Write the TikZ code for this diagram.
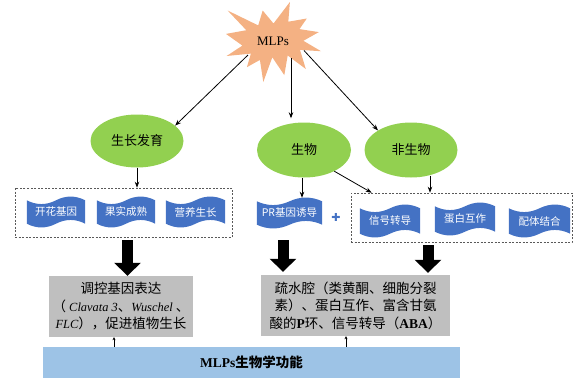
\documentclass[tikz,border=0pt]{standalone}
\usepackage{fontspec}
\setmainfont{Noto Sans CJK SC}
\newfontfamily\tnr[Scale=0.92]{Liberation Serif}
\newfontfamily\tnrb{Liberation Serif}
\newfontfamily\dejavu{DejaVu Sans}
\usetikzlibrary{shapes.geometric,arrows.meta,calc,backgrounds}
\definecolor{starc}{HTML}{F4B183}
\definecolor{ellc}{HTML}{92D050}
\definecolor{wavec}{HTML}{4472C4}
\definecolor{grayc}{HTML}{BFBFBF}
\definecolor{barc}{HTML}{9DC3E6}
\definecolor{dashc}{HTML}{595959}
\newcommand\wavefill[1]{%
  \begin{scope}[on background layer]
  \fill[wavec] let \p1=(#1.north west), \p2=(#1.south east) in
   (\x1,\y1-3.5pt)
   .. controls ({(5*\x1+\x2)/6},{\y1-8.5pt}) and ({(2*\x1+\x2)/3},{\y1-8.5pt}) .. ({(\x1+\x2)/2},{\y1-3.5pt})
   .. controls ({(\x1+2*\x2)/3},{\y1+1.5pt}) and ({(\x1+5*\x2)/6},{\y1+1.5pt}) .. (\x2,{\y1-3.5pt})
   -- (\x2,{\y2+3.5pt})
   .. controls ({(\x1+5*\x2)/6},{\y2+8.5pt}) and ({(\x1+2*\x2)/3},{\y2+8.5pt}) .. ({(\x1+\x2)/2},{\y2+3.5pt})
   .. controls ({(2*\x1+\x2)/3},{\y2-1.5pt}) and ({(5*\x1+\x2)/6},{\y2-1.5pt}) .. (\x1,{\y2+3.5pt}) -- cycle;
  \end{scope}}
\tikzset{
  ell/.style={ellipse, fill=ellc, inner sep=0pt, font=\fontsize{13}{15}\selectfont},
  tape/.style={rectangle, inner sep=0pt, text=white, font=\fontsize{10.5}{12}\selectfont},
  dbox/.style={draw=dashc, line width=0.6pt, dash pattern=on 2pt off 1.5pt},
  gbox/.style={fill=grayc, inner sep=0pt, align=center, font=\fontsize{13.5}{17.5}\selectfont},
  conn/.style={line width=0.8pt, -{Stealth[length=6pt,width=4.5pt]}},
  bigarrow/.style={line width=11pt, -{Triangle[length=13pt,width=26pt]}},
  smallarrow/.style={line width=0.6pt, -{Stealth[length=3pt,width=3pt]}}
}
\begin{document}
\begin{tikzpicture}[x=1pt,y=-1pt]
\useasboundingbox (0,0) rectangle (574,378);
% star
\fill[starc] (273.5,23.5) -- (289.9,2) -- (288.3,21.7) -- (306.8,18.5) -- (299.5,29.1)
  -- (318.8,32.1) -- (303.4,40.8) -- (321,51.2) -- (300.0,49.9) -- (305.8,69.0)
  -- (287.7,55.5) -- (284.3,75.1) -- (272.3,57.3) -- (263.3,82) -- (259.9,59.9)
  -- (246.9,67.2) -- (250.9,53.6) -- (226.6,56.0) -- (242.4,45.6) -- (226,33.9)
  -- (246.3,30.2) -- (227.6,10.5) -- (258.2,25.4) -- (262.7,10.5) -- cycle;
\node[font=\fontsize{13}{15}\selectfont\tnrb] (mlps) at (273,41) {MLPs};
\coordinate (s1) at (248,55);
\coordinate (s2) at (291,58);
\coordinate (s3) at (304,50.5);
% ellipses
\node[ell, minimum width=93pt, minimum height=53pt] (gzfy) at (137,141) {生长发育};
\node[ell, minimum width=94pt, minimum height=55pt] (sw) at (304,150) {生物};
\node[ell, minimum width=93pt, minimum height=55pt] (fsw) at (411,150) {非生物};
% dashed boxes
\node[dbox, minimum width=217pt, minimum height=49pt] (lbox) at (123.5,212.5) {};
\node[dbox, minimum width=221pt, minimum height=49pt] (rbox) at (461.5,217.5) {};
% tapes
\node[tape, minimum width=58pt, minimum height=30pt] (t1) at (56,212) {开花基因};
\node[tape, minimum width=58pt, minimum height=30pt] (t2) at (126,212) {果实成熟};
\node[tape, minimum width=59pt, minimum height=30pt] (t3) at (195.5,212) {营养生长};
\node[tape, minimum width=65pt, minimum height=30pt] (pr) at (289.5,213) {PR基因诱导};
\node[tape, minimum width=60pt, minimum height=32pt] (t4) at (390,221) {信号转导};
\node[tape, minimum width=60pt, minimum height=32pt] (t5) at (465,219) {蛋白互作};
\node[tape, minimum width=61pt, minimum height=32pt] (t6) at (539.5,221) {配体结合};
\wavefill{t1}\wavefill{t2}\wavefill{t3}\wavefill{pr}\wavefill{t4}\wavefill{t5}\wavefill{t6}
\node[text=wavec, font=\fontsize{11}{12}\selectfont\dejavu] (plus) at (336,217) {✚};
% gray boxes
\node[gbox, minimum width=144pt, minimum height=61pt] (lgray) at (121,306.5)
  {调控基因表达\\（ {\tnr\itshape Clavata 3}、{\tnr\itshape Wuschel} 、\\{\tnr\itshape FLC}），促进植物生长};
\node[gbox, minimum width=189pt, minimum height=61pt] (rgray) at (355.5,305.5)
  {疏水腔（类黄酮、细胞分裂\\素）、蛋白互作、富含甘氨\\酸的{\tnrb\bfseries P}环、信号转导（{\tnrb\bfseries ABA}）};
% bar
\node[fill=barc, minimum width=417pt, minimum height=31pt, inner sep=0pt,
  font=\fontsize{13.5}{15}\selectfont\bfseries] (bar) at (251.5,362.5) {{\tnrb\bfseries MLPs}生物学功能};
% connectors
\draw[conn] (s1) -- (gzfy.22);
\draw[conn, shorten >=4pt] (s2) -- (s2 |- sw.north);
\draw[conn] (s3) -- (fsw.north west);
\draw[conn] (gzfy.south) -- (gzfy.south |- lbox.north);
\draw[conn] ([xshift=-2pt]sw.south) -- ([xshift=-2pt]sw.south |- pr.north);
\draw[conn] (sw.-35) -- ([xshift=21pt]rbox.north west);
\draw[conn] ([xshift=19pt,yshift=2pt]fsw.south) -- ([xshift=19pt]fsw.south |- rbox.north);
\draw[bigarrow] ([xshift=4pt,yshift=-3pt]lbox.south) -- ([xshift=4pt]lbox.south |- lgray.north);
\draw[bigarrow, shorten >=3pt] ([xshift=-6.5pt,yshift=-12pt]pr.south) -- ([xshift=-6.5pt]pr.south |- rgray.north);
\draw[bigarrow, shorten >=2pt] ([xshift=-33.5pt,yshift=-3pt]rbox.south) -- ([xshift=-33.5pt]rbox.south |- rgray.north);
\draw[smallarrow] ([xshift=-7pt]lgray.south |- bar.north) -- ([xshift=-7pt]lgray.south);
\draw[smallarrow] ([xshift=-9.5pt]rgray.south |- bar.north) -- ([xshift=-9.5pt]rgray.south);
\end{tikzpicture}
\end{document}
